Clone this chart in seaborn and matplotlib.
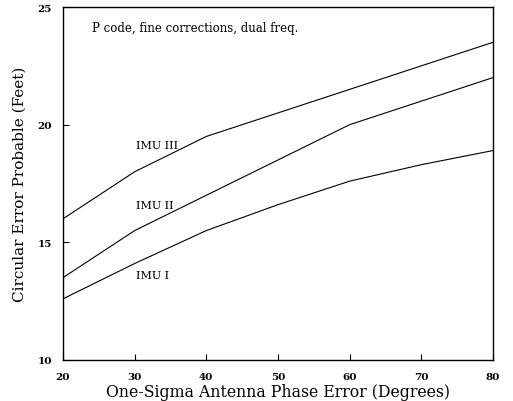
"""Circular error probable vs antenna phase error, three IMU grades."""
import matplotlib
matplotlib.use('Agg')
import matplotlib.pyplot as plt
import pandas as pd
import seaborn as sns

PHASE_ERR = [20, 30, 40, 50, 60, 70, 80]
IMU_I = [12.6, 14.1, 15.5, 16.6, 17.6, 18.3, 18.9]
IMU_II = [13.5, 15.5, 17.0, 18.5, 20.0, 21.0, 22.0]
IMU_III = [16.0, 18.0, 19.5, 20.5, 21.5, 22.5, 23.5]
SERIES = {'IMU I': IMU_I, 'IMU II': IMU_II, 'IMU III': IMU_III}
LABEL_POS = {'IMU I': (30.2, 13.6), 'IMU II': (30.2, 16.6), 'IMU III': (30.2, 19.15)}

sns.set_style('ticks')
plt.rcParams['font.family'] = ['DejaVu Serif']
plt.rcParams['text.color'] = 'black'
plt.rcParams['axes.labelcolor'] = 'black'
plt.rcParams['xtick.color'] = 'black'
plt.rcParams['ytick.color'] = 'black'
plt.rcParams['axes.edgecolor'] = 'black'

df = pd.concat(
    [pd.DataFrame({'phase': PHASE_ERR, 'cep': v, 'imu': k}) for k, v in SERIES.items()],
    ignore_index=True,
)

fig = plt.figure(figsize=(5.13, 4.02), dpi=100)
ax = fig.add_axes([0.1228, 0.102, 0.838, 0.878])

sns.lineplot(data=df, x='phase', y='cep', units='imu', estimator=None,
             color='black', lw=0.8, ax=ax, legend=False)

for name, (x, y) in LABEL_POS.items():
    ax.text(x, y, name, fontsize=8, va='center', ha='left')

ax.text(24.0, 24.13, 'P code, fine corrections, dual freq.', fontsize=8.5,
        va='center', ha='left')

ax.set_xlim(20, 80)
ax.set_ylim(10, 25)
ax.set_xticks([20, 30, 40, 50, 60, 70, 80])
ax.set_yticks([10, 15, 20, 25])
ax.tick_params(direction='in', length=4, width=0.8, labelsize=7.5)
ax.tick_params(axis='x', pad=9)
ax.tick_params(axis='y', pad=8)
for lab in ax.get_xticklabels() + ax.get_yticklabels():
    lab.set_fontweight('bold')
for sp in ax.spines.values():
    sp.set_visible(True)
    sp.set_linewidth(1.0)

ax.set_xlabel('One-Sigma Antenna Phase Error (Degrees)', fontsize=11.3, labelpad=1)
ax.set_ylabel('Circular Error Probable (Feet)', fontsize=11, labelpad=8)

fig.savefig('out.png', dpi=100)
